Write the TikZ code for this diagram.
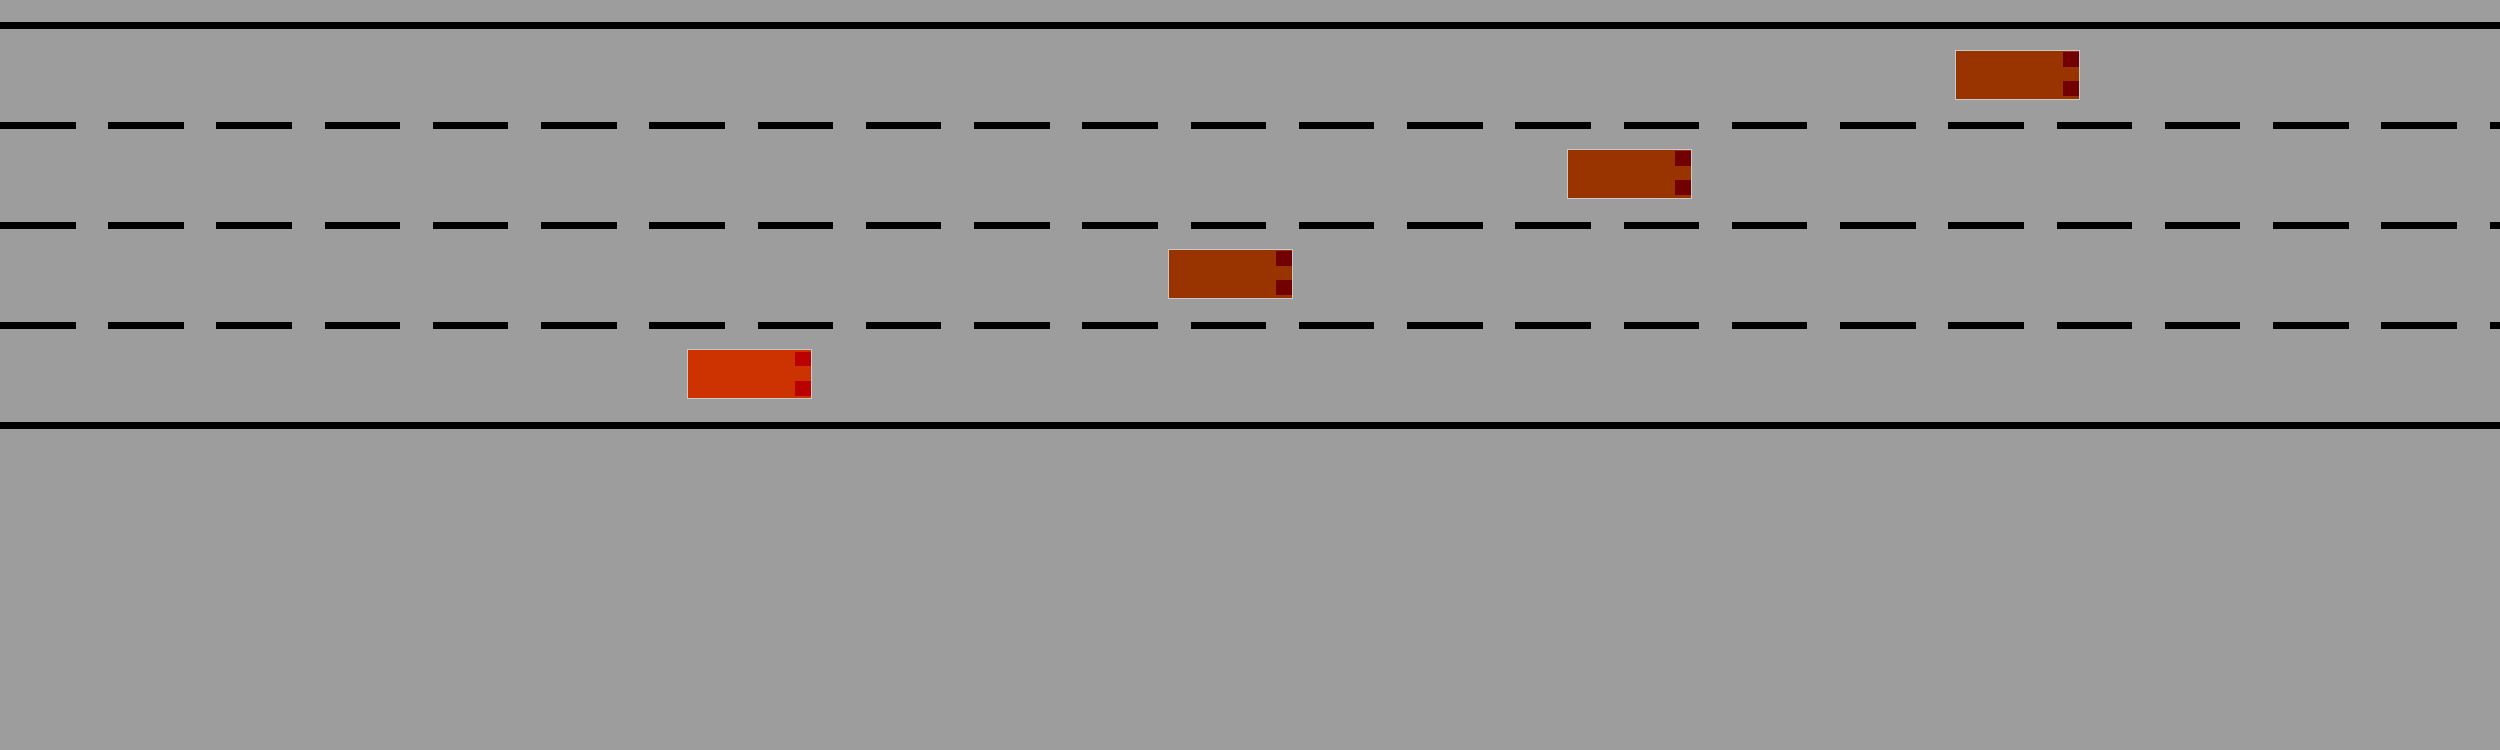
\documentclass[tikz,border=0pt]{standalone}
\usepackage{tikz}
\definecolor{roadgray}{RGB}{157,157,157}
\definecolor{carA}{RGB}{204,51,0}
\definecolor{lightA}{RGB}{187,0,0}
\definecolor{carB}{RGB}{153,51,0}
\definecolor{lightB}{RGB}{115,0,0}
\definecolor{carborder}{RGB}{200,200,200}
\newcommand{\drawcar}[4]{%
  \fill[#3] (#1,#2) rectangle ++(124,49);
  \fill[#4] ({#1+107},{#2+2}) rectangle ++(17,14.5);
  \fill[#4] ({#1+107},{#2+31}) rectangle ++(17,15);
  \draw[carborder,line width=0.15mm] (#1,#2) rectangle ++(124,49);
}
\tikzset{
  solidline/.style={line width=0.7mm,black},
  laneline/.style={line width=0.7mm,black,dash pattern=on 7.55mm off 3.275mm}
}
\begin{document}
\begin{tikzpicture}[x=0.1mm,y=-0.1mm]
\fill[roadgray] (0,0) rectangle (2500,750);
\useasboundingbox (0,0) rectangle (2500,750);
\draw[solidline] (0,25.5) -- (2500,25.5);
\draw[solidline] (0,425.5) -- (2500,425.5);
\foreach \yy in {125.5,225.5,325.5}
  \draw[laneline] (0,\yy) -- (2500,\yy);
\drawcar{687.5}{349.5}{carA}{lightA}
\drawcar{1168.5}{249.5}{carB}{lightB}
\drawcar{1567.5}{149.5}{carB}{lightB}
\drawcar{1955.5}{50.5}{carB}{lightB}
\end{tikzpicture}
\end{document}
